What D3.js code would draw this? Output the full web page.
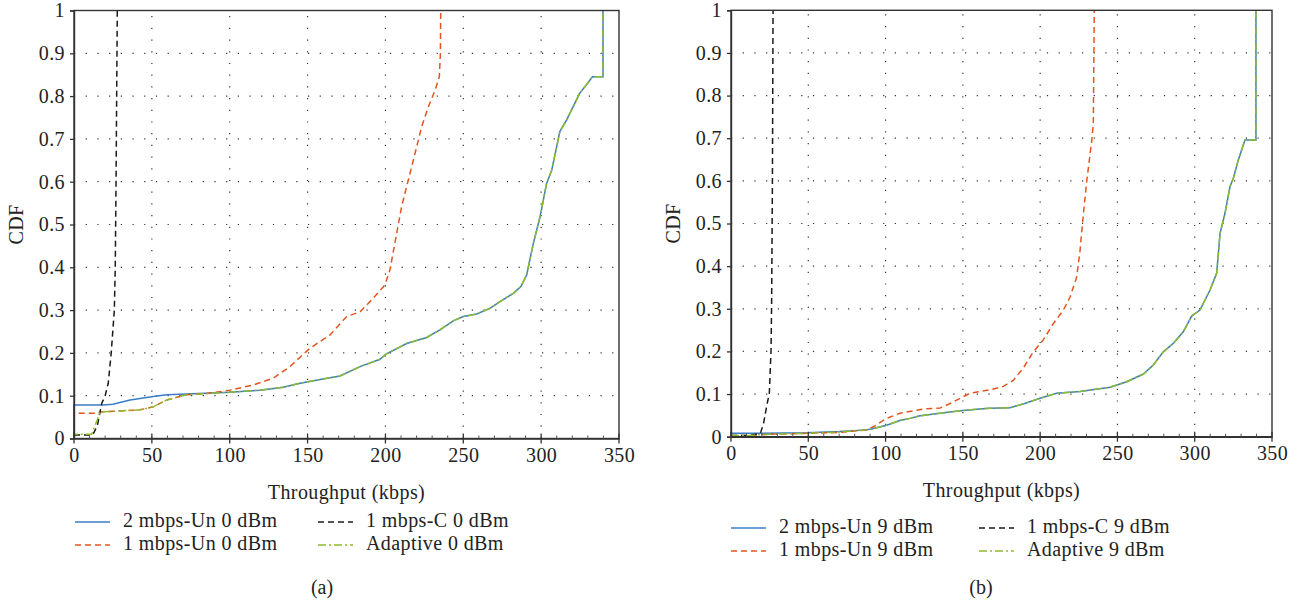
<!DOCTYPE html>
<html>
<head>
<meta charset="utf-8">
<script src="https://cdn.jsdelivr.net/npm/d3@7"></script>
<style>
  html, body { margin: 0; padding: 0; background: #fff; }
  svg text { font-family: "Liberation Serif", "Times New Roman", serif; fill: #222; }
</style>
</head>
<body>
<svg id="chart" width="1309" height="612"></svg>
<script>
// ---------- data ----------
const xTicks = [0, 50, 100, 150, 200, 250, 300, 350];
const yTicks = [0, 0.1, 0.2, 0.3, 0.4, 0.5, 0.6, 0.7, 0.8, 0.9, 1];
const xLabel = "Throughput (kbps)";
const yLabel = "CDF";

// Panel (a): 0 dBm  -- [throughput kbps, CDF]
const a_un2 = [[0,0],[0,0.078],[18.8,0.078],[25,0.08],[36,0.09],[50.9,0.098],[59.5,0.102],[72.4,0.104],[100,0.108],
  [119.5,0.113],[134.4,0.12],[145.2,0.129],[158,0.138],[170.8,0.146],[183.7,0.168],[196.5,0.185],[200.4,0.197],
  [213.6,0.222],[226.5,0.236],[235,0.254],[243.6,0.275],[250,0.285],[258.6,0.291],[267.1,0.304],[273.6,0.32],
  [282.1,0.339],[287,0.355],[290.7,0.382],[295,0.456],[299.3,0.518],[303.5,0.596],[306.8,0.627],[310,0.682],
  [312,0.717],[316.3,0.744],[320.5,0.775],[324.8,0.807],[329,0.826],[332.9,0.845],[339.7,0.845],[339.7,1]];
const a_un1 = [[0,0],[0,0.059],[15,0.059],[16.7,0.062],[42.4,0.067],[50.9,0.074],[59.5,0.09],[72.4,0.102],[85.3,0.105],
  [100.2,0.113],[115.2,0.125],[128,0.141],[138.7,0.168],[145.2,0.19],[151.6,0.211],[164.4,0.242],[175.1,0.285],
  [183.7,0.296],[191.2,0.324],[199.7,0.359],[202.9,0.394],[207.2,0.479],[210.4,0.542],[214.7,0.604],[219,0.666],
  [223.3,0.729],[227.6,0.775],[231.9,0.814],[234.6,0.845],[235.3,0.9],[235.5,1]];
const a_c1 = [[0,0.008],[12,0.008],[15,0.03],[17.8,0.082],[20,0.1],[22,0.129],[23.9,0.2],[25.9,0.3],[26.5,0.4],
  [27,0.6],[27.4,0.8],[27.8,1]];
const a_adp = [[0,0],[0,0.01],[11.3,0.01],[14.6,0.04],[16.7,0.062],[42.4,0.067],[50.9,0.074],[59.5,0.09],[72.4,0.102],
  [85,0.105],[100,0.108],[119.5,0.113],[134.4,0.12],[145.2,0.129],[158,0.138],[170.8,0.146],[183.7,0.168],
  [196.5,0.185],[200.4,0.197],[213.6,0.222],[226.5,0.236],[235,0.254],[243.6,0.275],[250,0.285],[258.6,0.291],
  [267.1,0.304],[273.6,0.32],[282.1,0.339],[287,0.355],[290.7,0.382],[295,0.456],[299.3,0.518],[303.5,0.596],
  [306.8,0.627],[310,0.682],[312,0.717],[316.3,0.744],[320.5,0.775],[324.8,0.807],[329,0.826],[332.9,0.845],
  [339.7,0.845],[339.7,1]];

// Panel (b): 9 dBm
const b_un2 = [[0,0.008],[20,0.008],[49,0.009],[70,0.012],[87.8,0.016],[92.1,0.019],[100.7,0.027],[109.3,0.038],
  [115.8,0.043],[122.3,0.049],[135.2,0.055],[148.2,0.061],[161.1,0.065],[167.6,0.067],[180.5,0.068],[190,0.078],
  [199.9,0.09],[210.7,0.102],[225.8,0.106],[245.2,0.116],[256,0.129],[266.8,0.147],[273.2,0.168],[279.7,0.199],
  [286.2,0.219],[292.6,0.246],[298,0.283],[303.4,0.297],[309.9,0.344],[314.2,0.383],[316.4,0.477],[319.6,0.524],
  [322.8,0.586],[325,0.606],[328.2,0.649],[332.5,0.696],[339.6,0.696],[339.6,1]];
const b_un1 = [[0,0.003],[12,0.003],[20,0.005],[49,0.008],[70,0.01],[88,0.016],[93,0.025],[100.7,0.043],
  [109.3,0.055],[124.5,0.065],[135.2,0.067],[143,0.08],[148.2,0.09],[154.6,0.102],[167.6,0.11],[176.2,0.118],
  [182.6,0.132],[189.1,0.161],[195.6,0.199],[202,0.227],[208.5,0.265],[215,0.297],[219.3,0.327],[223.6,0.374],
  [225.8,0.436],[227.9,0.52],[230.1,0.598],[233.3,0.692],[234.4,0.733],[235,1]];
const b_c1 = [[0,0.003],[12,0.003],[19,0.008],[21,0.03],[23,0.07],[24.8,0.102],[25.9,0.203],[26.3,0.32],
  [26.8,0.6],[27.2,1]];
const b_adp = [[0,0.003],[12,0.003],[20,0.005],[49,0.008],[70,0.011],[87.8,0.016],[92.1,0.019],[100.7,0.027],
  [109.3,0.038],[115.8,0.043],[122.3,0.049],[135.2,0.055],[148.2,0.061],[161.1,0.065],[167.6,0.067],[180.5,0.068],
  [190,0.078],[199.9,0.09],[210.7,0.102],[225.8,0.106],[245.2,0.116],[256,0.129],[266.8,0.147],[273.2,0.168],
  [279.7,0.199],[286.2,0.219],[292.6,0.246],[298,0.283],[303.4,0.297],[309.9,0.344],[314.2,0.383],[316.4,0.477],
  [319.6,0.524],[322.8,0.586],[325,0.606],[328.2,0.649],[332.5,0.696],[339.6,0.696],[339.6,1]];

const a_names = ["2 mbps-Un 0 dBm", "1 mbps-Un 0 dBm", "1 mbps-C 0 dBm", "Adaptive 0 dBm"];
const b_names = ["2 mbps-Un 9 dBm", "1 mbps-Un 9 dBm", "1 mbps-C 9 dBm", "Adaptive 9 dBm"];
const captions = ["(a)", "(b)"];

// ---------- styles ----------
const seriesStyle = [
  { color: "#3b7dc4", dash: null },
  { color: "#e4541f", dash: "6,4" },
  { color: "#1a1a1a", dash: "6,4" },
  { color: "#8dbb2e", dash: "8,3,2,3" }
];
const FS = 20, LS = "0.4px";

const svg = d3.select("#chart");

function drawPanel(p) {
  const x = d3.scaleLinear().domain([0, 350]).range([p.x0, p.x1]);
  const y = d3.scaleLinear().domain([0, 1]).range([p.y0, p.y1]);
  const g = svg.append("g");

  // grid (dotted)
  g.append("g").selectAll("line").data(yTicks.filter(d => d > 0 && d < 1)).join("line")
    .attr("x1", p.x0).attr("x2", p.x1).attr("y1", d => y(d)).attr("y2", d => y(d))
    .attr("stroke", "#333").attr("stroke-width", 1.2).attr("stroke-dasharray", "1.2,10.5");
  g.append("g").selectAll("line").data(xTicks.filter(d => d > 0 && d < 350)).join("line")
    .attr("x1", d => x(d)).attr("x2", d => x(d)).attr("y1", p.y0).attr("y2", p.y1)
    .attr("stroke", "#333").attr("stroke-width", 1.2).attr("stroke-dasharray", "1.2,10.5");

  // series
  const line = d3.line().x(d => x(d[0])).y(d => y(d[1]));
  [0, 1, 2, 3].forEach(i => {
    const st = seriesStyle[i];
    g.append("path").datum(p.series[i]).attr("d", line)
      .attr("fill", "none").attr("stroke", st.color).attr("stroke-width", 1.5)
      .attr("stroke-dasharray", st.dash);
  });

  // frame
  g.append("rect").attr("x", p.x0).attr("y", p.y1).attr("width", p.x1 - p.x0).attr("height", p.y0 - p.y1)
    .attr("fill", "none").attr("stroke", "#333").attr("stroke-width", 1.4);

  // axes
  const xAxis = d3.axisBottom(x).tickValues(xTicks).tickFormat(d3.format("d")).tickSize(0).tickPadding(9);
  const gx = g.append("g").attr("transform", `translate(0,${p.y0})`).call(xAxis);
  gx.attr("font-family", null).attr("font-size", null);
  gx.select(".domain").attr("stroke", "#333").attr("stroke-width", 1.4);
  gx.selectAll("text").attr("font-size", FS).attr("letter-spacing", LS).attr("fill", "#222");
  // major ticks crossing axis
  g.append("g").selectAll("line").data(xTicks).join("line")
    .attr("x1", d => x(d)).attr("x2", d => x(d)).attr("y1", p.y0 - 5).attr("y2", p.y0 + 5)
    .attr("stroke", "#333").attr("stroke-width", 1.3);
  // minor ticks
  g.append("g").selectAll("line").data(d3.range(10, 350, 10).filter(d => d % 50 !== 0)).join("line")
    .attr("x1", d => x(d)).attr("x2", d => x(d)).attr("y1", p.y0 - 3).attr("y2", p.y0)
    .attr("stroke", "#555").attr("stroke-width", 1);

  const yAxis = d3.axisLeft(y).tickValues(yTicks).tickFormat(d => d === 0 ? "0" : d === 1 ? "1" : d3.format(".1f")(d))
    .tickSize(4).tickPadding(5);
  const gy = g.append("g").attr("transform", `translate(${p.x0},0)`).call(yAxis);
  gy.attr("font-family", null).attr("font-size", null);
  gy.select(".domain").attr("stroke", "#333").attr("stroke-width", 1.4);
  gy.selectAll(".tick line").attr("stroke", "#333").attr("stroke-width", 1.3);
  gy.selectAll("text").attr("font-size", FS).attr("letter-spacing", LS).attr("fill", "#222");

  // axis titles
  g.append("text").attr("x", (p.x0 + p.x1) / 2).attr("y", p.y0 + 60).attr("text-anchor", "middle")
    .attr("font-size", FS).attr("letter-spacing", LS).text(xLabel);
  g.append("text").attr("transform", `translate(${p.yLabelX},${(p.y0 + p.y1) / 2}) rotate(-90)`)
    .attr("text-anchor", "middle").attr("dominant-baseline", "middle").attr("font-size", FS)
    .attr("letter-spacing", LS).text(yLabel);

  // legend: series index -> [row, col]
  const legendPos = [[0, 0], [1, 0], [0, 1], [1, 1]];
  p.names.forEach((name, i) => {
    const row = legendPos[i][0], col = legendPos[i][1];
    const lx = p.legX[col], ly = p.legY + row * 23;
    const st = seriesStyle[i];
    g.append("line").attr("x1", lx).attr("x2", lx + 35).attr("y1", ly).attr("y2", ly)
      .attr("stroke", st.color).attr("stroke-width", 1.6).attr("stroke-dasharray", st.dash);
    g.append("text").attr("x", lx + 48).attr("y", ly).attr("dominant-baseline", "middle")
      .attr("font-size", FS).attr("letter-spacing", LS).text(name);
  });

  // caption
  g.append("text").attr("x", p.capX).attr("y", 589).attr("text-anchor", "middle")
    .attr("dominant-baseline", "middle").attr("font-size", FS).text(p.caption);
}

drawPanel({ x0: 74, x1: 619, y0: 438.5, y1: 10.5, series: [a_un2, a_un1, a_c1, a_adp], names: a_names,
  yLabelX: 18, legX: [75, 318], legY: 522, capX: 322, caption: captions[0] });
drawPanel({ x0: 731, x1: 1272, y0: 436.7, y1: 10.3, series: [b_un2, b_un1, b_c1, b_adp], names: b_names,
  yLabelX: 675, legX: [731, 979], legY: 528, capX: 981, caption: captions[1] });
</script>
</body>
</html>
